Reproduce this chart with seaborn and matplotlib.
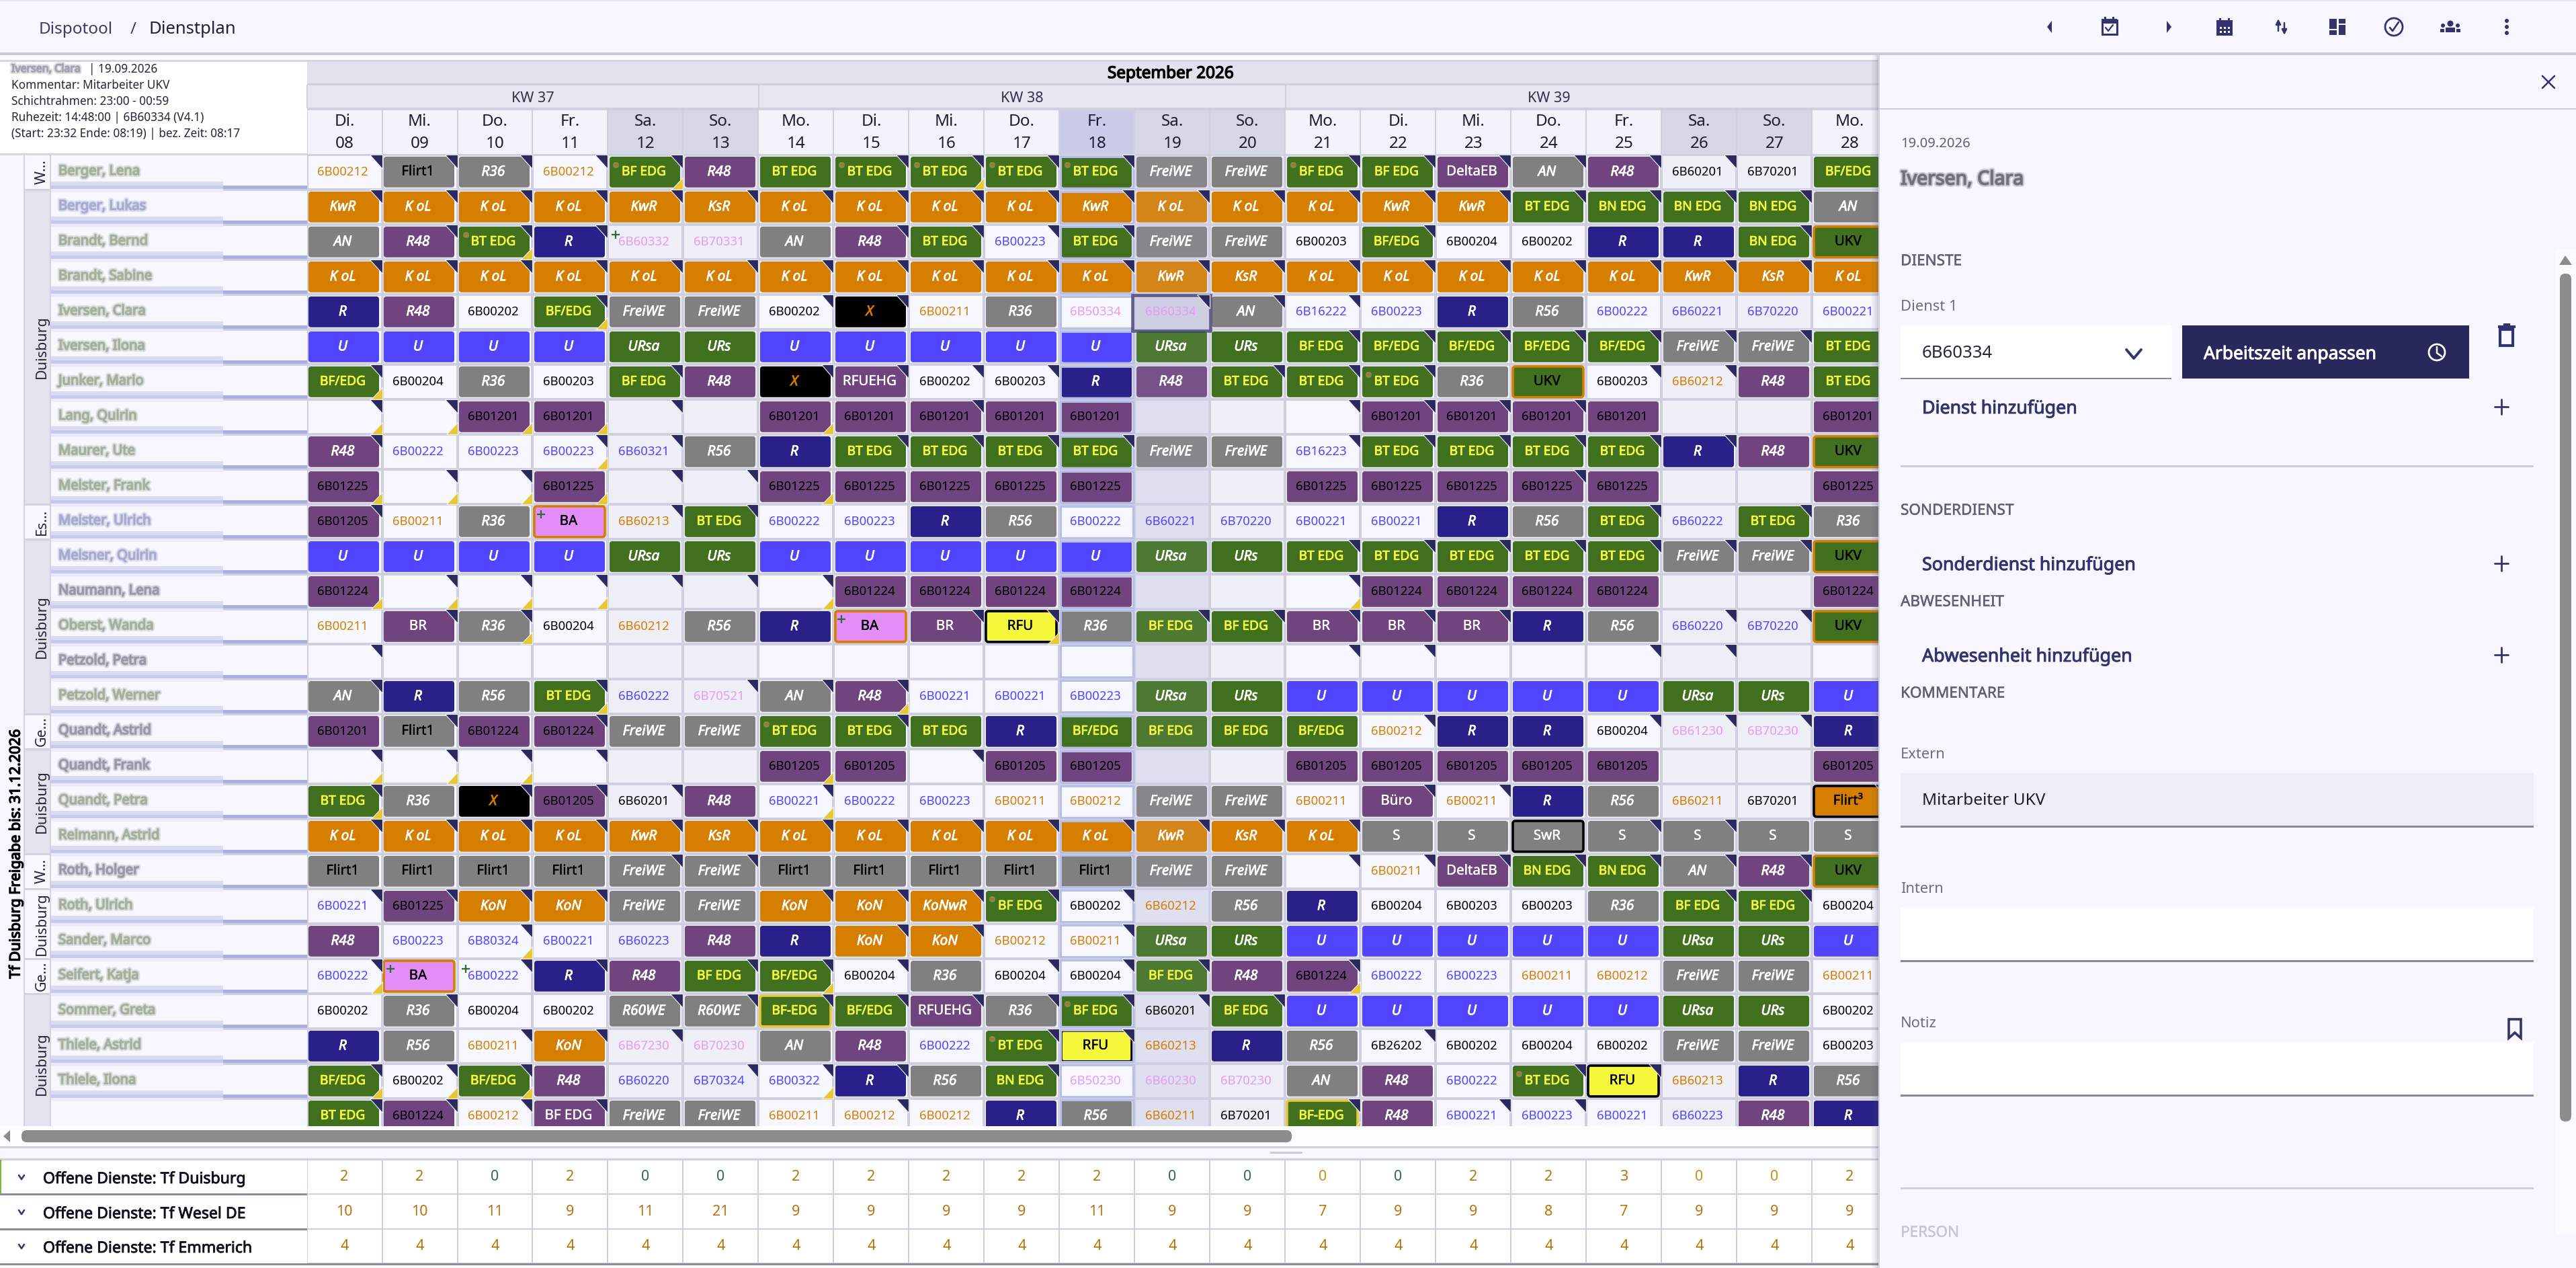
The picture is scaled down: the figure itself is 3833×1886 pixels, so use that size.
import numpy as np
import pandas as pd
import matplotlib
matplotlib.use("Agg")
import matplotlib.pyplot as plt
from matplotlib.colors import ListedColormap
from matplotlib.patches import FancyBboxPatch, Rectangle, Polygon, Circle
import matplotlib.patheffects as pe
import seaborn as sns

sns.set_theme(style="white")
plt.rcParams["font.family"] = ["Noto Sans", "DejaVu Sans"]

# ---------------- data ----------------
weekdays = ["Di.", "Mi.", "Do.", "Fr.", "Sa.", "So.", "Mo.", "Di.", "Mi.", "Do.", "Fr.", "Sa.", "So.",
            "Mo.", "Di.", "Mi.", "Do.", "Fr.", "Sa.", "So.", "Mo."]
day_numbers = ["08", "09", "10", "11", "12", "13", "14", "15", "16", "17", "18", "19", "20",
               "21", "22", "23", "24", "25", "26", "27", "28"]
kw_labels = ["KW 37", "KW 38", "KW 39"]
names = ["Berger, Lena", "Berger, Lukas", "Brandt, Bernd", "Brandt, Sabine", "Iversen, Clara", "Iversen, Ilona",
         "Junker, Mario", "Lang, Quirin", "Maurer, Ute", "Meister, Frank", "Meister, Ulrich", "Meisner, Quirin",
         "Naumann, Lena", "Oberst, Wanda", "Petzold, Petra", "Petzold, Werner", "Quandt, Astrid", "Quandt, Frank",
         "Quandt, Petra", "Reimann, Astrid", "Roth, Holger", "Roth, Ulrich", "Sander, Marco", "Seifert, Katja",
         "Sommer, Greta", "Thiele, Astrid", "Thiele, Ilona", "Thiele, Wanda"]
name_tones = list("gbggggggggbbpgpgppggpggggggg")
groups = [("W...", 1, False), ("Duisburg", 9, True), ("Es...", 1, False), ("Duisburg", 5, True), ("Ge...", 1, False),
          ("Duisburg", 3, True), ("W...", 1, False), ("Duisburg", 2, False), ("Ge...", 1, False), ("Duisburg", 4, True)]

row_00 = ["6B00212", "Flirt1", "R36", "6B00212", "BF EDG", "R48", "BT EDG", "BT EDG", "BT EDG", "BT EDG", "BT EDG", "FreiWE", "FreiWE", "BF EDG", "BF EDG", "DeltaEB", "AN", "R48", "6B60201", "6B70201", "BF/EDG"]
row_01 = ["KwR", "K oL", "K oL", "K oL", "KwR", "KsR", "K oL", "K oL", "K oL", "K oL", "KwR", "K oL", "K oL", "K oL", "KwR", "KwR", "BT EDG", "BN EDG", "BN EDG", "BN EDG", "AN"]
row_02 = ["AN", "R48", "BT EDG", "R", "6B60332", "6B70331", "AN", "R48", "BT EDG", "6B00223", "BT EDG", "FreiWE", "FreiWE", "6B00203", "BF/EDG", "6B00204", "6B00202", "R", "R", "BN EDG", "UKV"]
row_03 = ["K oL", "K oL", "K oL", "K oL", "K oL", "K oL", "K oL", "K oL", "K oL", "K oL", "K oL", "KwR", "KsR", "K oL", "K oL", "K oL", "K oL", "K oL", "KwR", "KsR", "K oL"]
row_04 = ["R", "R48", "6B00202", "BF/EDG", "FreiWE", "FreiWE", "6B00202", "X", "6B00211", "R36", "6B50334", "6B60334", "AN", "6B16222", "6B00223", "R", "R56", "6B00222", "6B60221", "6B70220", "6B00221"]
row_05 = ["U", "U", "U", "U", "URsa", "URs", "U", "U", "U", "U", "U", "URsa", "URs", "BF EDG", "BF/EDG", "BF/EDG", "BF/EDG", "BF/EDG", "FreiWE", "FreiWE", "BT EDG"]
row_06 = ["BF/EDG", "6B00204", "R36", "6B00203", "BF EDG", "R48", "X", "RFUEHG", "6B00202", "6B00203", "R", "R48", "BT EDG", "BT EDG", "BT EDG", "R36", "UKV", "6B00203", "6B60212", "R48", "BT EDG"]
row_07 = ["", "", "6B01201", "6B01201", "", "", "6B01201", "6B01201", "6B01201", "6B01201", "6B01201", "", "", "", "6B01201", "6B01201", "6B01201", "6B01201", "", "", "6B01201"]
row_08 = ["R48", "6B00222", "6B00223", "6B00223", "6B60321", "R56", "R", "BT EDG", "BT EDG", "BT EDG", "BT EDG", "FreiWE", "FreiWE", "6B16223", "BT EDG", "BT EDG", "BT EDG", "BT EDG", "R", "R48", "UKV"]
row_09 = ["6B01225", "", "", "6B01225", "", "", "6B01225", "6B01225", "6B01225", "6B01225", "6B01225", "", "", "6B01225", "6B01225", "6B01225", "6B01225", "6B01225", "", "", "6B01225"]
row_10 = ["6B01205", "6B00211", "R36", "BA", "6B60213", "BT EDG", "6B00222", "6B00223", "R", "R56", "6B00222", "6B60221", "6B70220", "6B00221", "6B00221", "R", "R56", "BT EDG", "6B60222", "BT EDG", "R36"]
row_11 = ["U", "U", "U", "U", "URsa", "URs", "U", "U", "U", "U", "U", "URsa", "URs", "BT EDG", "BT EDG", "BT EDG", "BT EDG", "BT EDG", "FreiWE", "FreiWE", "UKV"]
row_12 = ["6B01224", "", "", "", "", "", "", "6B01224", "6B01224", "6B01224", "6B01224", "", "", "", "6B01224", "6B01224", "6B01224", "6B01224", "", "", "6B01224"]
row_13 = ["6B00211", "BR", "R36", "6B00204", "6B60212", "R56", "R", "BA", "BR", "RFU", "R36", "BF EDG", "BF EDG", "BR", "BR", "BR", "R", "R56", "6B60220", "6B70220", "UKV"]
row_14 = [""] * 21
row_15 = ["AN", "R", "R56", "BT EDG", "6B60222", "6B70521", "AN", "R48", "6B00221", "6B00221", "6B00223", "URsa", "URs", "U", "U", "U", "U", "U", "URsa", "URs", "U"]
row_16 = ["6B01201", "Flirt1", "6B01224", "6B01224", "FreiWE", "FreiWE", "BT EDG", "BT EDG", "BT EDG", "R", "BF/EDG", "BF EDG", "BF EDG", "BF/EDG", "6B00212", "R", "R", "6B00204", "6B61230", "6B70230", "R"]
row_17 = ["", "", "", "", "", "", "6B01205", "6B01205", "", "6B01205", "6B01205", "", "", "6B01205", "6B01205", "6B01205", "6B01205", "6B01205", "", "", "6B01205"]
row_18 = ["BT EDG", "R36", "X", "6B01205", "6B60201", "R48", "6B00221", "6B00222", "6B00223", "6B00211", "6B00212", "FreiWE", "FreiWE", "6B00211", "Büro", "6B00211", "R", "R56", "6B60211", "6B70201", "Flirt³"]
row_19 = ["K oL", "K oL", "K oL", "K oL", "KwR", "KsR", "K oL", "K oL", "K oL", "K oL", "K oL", "KwR", "KsR", "K oL", "S", "S", "SwR", "S", "S", "S", "S"]
row_20 = ["Flirt1", "Flirt1", "Flirt1", "Flirt1", "FreiWE", "FreiWE", "Flirt1", "Flirt1", "Flirt1", "Flirt1", "Flirt1", "FreiWE", "FreiWE", "", "6B00211", "DeltaEB", "BN EDG", "BN EDG", "AN", "R48", "UKV"]
row_21 = ["6B00221", "6B01225", "KoN", "KoN", "FreiWE", "FreiWE", "KoN", "KoN", "KoNwR", "BF EDG", "6B00202", "6B60212", "R56", "R", "6B00204", "6B00203", "6B00203", "R36", "BF EDG", "BF EDG", "6B00204"]
row_22 = ["R48", "6B00223", "6B80324", "6B00221", "6B60223", "R48", "R", "KoN", "KoN", "6B00212", "6B00211", "URsa", "URs", "U", "U", "U", "U", "U", "URsa", "URs", "U"]
row_23 = ["6B00222", "BA", "6B00222", "R", "R48", "BF EDG", "BF/EDG", "6B00204", "R36", "6B00204", "6B00204", "BF EDG", "R48", "6B01224", "6B00222", "6B00223", "6B00211", "6B00212", "FreiWE", "FreiWE", "6B00211"]
row_24 = ["6B00202", "R36", "6B00204", "6B00202", "R60WE", "R60WE", "BF-EDG", "BF/EDG", "RFUEHG", "R36", "BF EDG", "6B60201", "BF EDG", "U", "U", "U", "U", "U", "URsa", "URs", "6B00202"]
row_25 = ["R", "R56", "6B00211", "KoN", "6B67230", "6B70230", "AN", "R48", "6B00222", "BT EDG", "RFU", "6B60213", "R", "R56", "6B26202", "6B00202", "6B00204", "6B00202", "FreiWE", "FreiWE", "6B00203"]
row_26 = ["BF/EDG", "6B00202", "BF/EDG", "R48", "6B60220", "6B70324", "6B00322", "R", "R56", "BN EDG", "6B50230", "6B60230", "6B70230", "AN", "R48", "6B00222", "BT EDG", "RFU", "6B60213", "R", "R56"]
row_27 = ["BT EDG", "6B01224", "6B00212", "BF EDG", "FreiWE", "FreiWE", "6B00211", "6B00212", "6B00212", "R", "R56", "6B60211", "6B70201", "BF-EDG", "R48", "6B00221", "6B00223", "6B00221", "6B60223", "R48", "R"]
shift_rows = [row_00, row_01, row_02, row_03, row_04, row_05, row_06, row_07, row_08, row_09, row_10, row_11, row_12, row_13,
              row_14, row_15, row_16, row_17, row_18, row_19, row_20, row_21, row_22, row_23, row_24, row_25, row_26, row_27]

# corner flags per row: n = navy top-right, y = yellow bottom-right, b = both
corner_flags = [
    "nnnnb..nbnn..nnnnnn..", "nnnnnnnnnnnnnnnnnnnn.", ".nbn...nnnn...n....n.", "nnnnnnnnnnnnnnnnnnnn.",
    "...b..nn...nnn.......", ".............nnnnnnn.", "b...n.nnnn..nnn..nn..", "bbyyn.y.n....nnnn....",
    "n..bn..nnnn..nnnnnn..", "ybbynny.........n....", "n...nn...........n.n.", ".............nnnnnnn.",
    "ybbbnnb......b.......", ".nb.....nb.nnnnn..nn.", "n............nn..nn..", "n..b.nnb.............",
    ".n.n...n......n..nnn.", "bbbn..y.n............", "b.nnn.b.......nn....n", "nnnnnnnnnnnnnn...nn..",
    "....nn.......nnnnnnn.", "nnnn..nnnnn.......nn.", "..b....nn.n..........", "b.nn.nbn.nnn.b.......",
    ".n..nnnnnnnnn........", "..nnn....nn...n......", "bbb..nbn.n......nn...", "nnnn...n.....b.nn...."]
minus_marks = [(0, 4), (0, 7), (0, 8), (0, 9), (0, 10), (0, 13), (2, 2), (6, 14), (16, 6), (21, 9), (24, 10), (25, 9), (26, 16)]
plus_marks = [(2, 4), (10, 3), (13, 7), (23, 1), (23, 2)]

orange_labels = ["K oL", "KwR", "KsR", "KoN", "KoNwR"]
grey_labels = ["R36", "R56", "AN", "FreiWE", "R60WE", "S", "SwR"]
edg_labels = ["BF EDG", "BT EDG", "BN EDG", "BF/EDG", "BF-EDG"]
purple_text_labels = ["BR", "DeltaEB", "Büro", "RFUEHG"]
green_urlaub_labels = ["URsa", "URs"]
pink_codes = ["6B60332", "6B70331", "6B50334", "6B60334", "6B70521", "6B61230", "6B70230", "6B67230", "6B50230", "6B60230"]
orange_codes = ["6B00211", "6B00212", "6B60211", "6B60212", "6B60213"]
black_codes = ["6B00202", "6B00203", "6B00204", "6B60201", "6B70201", "6B26202"]

open_duisburg = [2, 2, 0, 2, 0, 0, 2, 2, 2, 2, 2, 0, 0, 0, 0, 2, 2, 3, 0, 0, 2]
open_wesel = [10, 10, 11, 9, 11, 21, 9, 9, 9, 9, 11, 9, 9, 7, 9, 9, 8, 7, 9, 9, 9]
open_emmerich = [4] * 21
open_labels = ["Offene Dienste: Tf Duisburg", "Offene Dienste: Tf Wesel DE", "Offene Dienste: Tf Emmerich"]

# ---------------- palette ----------------
PAGE = "#F6F7FF"; LINE = "#CFCFE0"; NAVY = "#2A2A5E"; INK = "#33336E"
ORANGE = "#D67E00"; GREEN = "#41701E"; PURPLE = "#70447E"; DEEP = "#29208A"; BLUE = "#5245FF"
GREY = "#808080"; YEL = "#F6F83C"; PINK = "#E28DF8"; CORNER_Y = "#E8C832"


def style_for(label, r, c):
    """(fill, text colour, italic, border)"""
    if (r, c) == (27, 3):
        return PURPLE, "white", False, None
    if label in orange_labels:
        return ORANGE, "white", True, None
    if label == "R":
        return DEEP, "white", True, None
    if label == "R48":
        return PURPLE, "white", True, None
    if label == "SwR":
        return GREY, "white", False, "black"
    if label == "S":
        return GREY, "white", False, None
    if label in grey_labels:
        return GREY, "white", True, None
    if label == "Flirt1":
        return GREY, "black", False, None
    if label == "Flirt³":
        return ORANGE, "black", False, "black"
    if label in purple_text_labels:
        return PURPLE, "white", False, None
    if label.startswith("6B01"):
        return PURPLE, "black", False, None
    if label == "BF-EDG":
        return GREEN, YEL, False, CORNER_Y
    if label in edg_labels:
        return GREEN, YEL, False, None
    if label == "U":
        return BLUE, "white", True, None
    if label in green_urlaub_labels:
        return GREEN, "white", True, None
    if label == "UKV":
        return GREEN, "black", False, ORANGE
    if label == "BA":
        return PINK, "black", False, ORANGE
    if label == "RFU":
        return YEL, "black", False, "black"
    if label == "X":
        return "black", ORANGE, True, None
    if label in pink_codes:
        return None, "#E79AF2", False, None
    if label in orange_codes:
        return None, ORANGE, False, None
    if label in black_codes:
        return None, "black", False, None
    return None, BLUE, False, None


# ---------------- layout ----------------
W, H = 3833, 1886
X0, CW, Y0, RH = 456.5, 112.0, 230.0, 52.0
GRID_BOTTOM = 1675.0
fig = plt.figure(figsize=(W / 100, H / 100), dpi=100, facecolor=PAGE)


def axes_px(x1, y1, x2, y2, z):
    a = fig.add_axes([x1 / W, 1 - y2 / H, (x2 - x1) / W, (y2 - y1) / H], zorder=z)
    return a


base = axes_px(0, 0, W, H, 0)
base.set_xlim(0, W); base.set_ylim(H, 0); base.axis("off")


def rect(a, x1, y1, x2, y2, color, z=1, **kw):
    a.add_patch(Rectangle((x1, y1), x2 - x1, y2 - y1, facecolor=color, edgecolor="none", zorder=z, **kw))


def heavy(t, w=0.7):
    """The installed sans has one weight only; a thin outline gives the heavier strokes."""
    t.set_path_effects([pe.withStroke(linewidth=w, foreground=t.get_color())])
    return t


def txt(a, x, y, s, size, color="black", ha="left", bold=0.0, z=5, **kw):
    t = a.text(x, y, s, fontsize=size, color=color, ha=ha, va="center", zorder=z, **kw)
    return heavy(t, bold) if bold else t


def blurred(a, x, y, s, size, color, z=5):
    t = a.text(x, y, s, fontsize=size, color=color, ha="left", va="center", zorder=z, alpha=0.8)
    t.set_path_effects([pe.Stroke(linewidth=4.5, foreground=color, alpha=0.32),
                        pe.Stroke(linewidth=1.4, foreground=color, alpha=0.8), pe.Normal()])
    return t


# top bar
rect(base, 0, 0, W, 2, "#E6E6F0")
rect(base, 0, 78, W, 82, "#C9C9DA")
rect(base, 0, 82, W, 89, "white")
rect(base, 0, 89, W, 92, "#D5D5E3")
txt(base, 58, 44, "Dispotool", 17.5, "#3B3B63")
txt(base, 194, 44, "/", 17.5, "#3B3B63")
txt(base, 222, 44, "Dienstplan", 18.5, "#22223A")

# info box
rect(base, 0, 92, X0, 228, "white")
rect(base, 0, 228, X0, 231, "#D5D5E3")
blurred(base, 17, 103, "Iversen, Clara", 11.5, "#A2A2B0")
info_lines = ["| 19.09.2026", "Kommentar: Mitarbeiter UKV", "Schichtrahmen: 23:00 - 00:59",
              "Ruhezeit: 14:48:00 | 6B60334 (V4.1)", "(Start: 23:32 Ende: 08:19) | bez. Zeit: 08:17"]
for i, s in enumerate(info_lines):
    txt(base, 132 if i == 0 else 17, 103 + 24 * i, s, 12.4, "#24243A")

# header
rect(base, X0, 92, W, 126, "#E1E2EE")
rect(base, X0, 126, W, 161, "#E5E6F1")
rect(base, X0, 124, W, 127, LINE)
rect(base, X0, 160, W, 163, LINE)
txt(base, 1742, 110, "September 2026", 17.5, "black", ha="center", bold=1.0)
kw_spans = [(0, 6), (6, 13), (13, 21)]
for (a_, b_), lab in zip(kw_spans, kw_labels):
    xa, xb = X0 + a_ * CW, X0 + b_ * CW
    rect(base, xa - 1, 126, xa + 1, 161, LINE, z=2)
txt(base, X0 + 3 * CW, 146, kw_labels[0], 15.5, "#33334A", ha="center")
txt(base, X0 + 9.5 * CW, 146, kw_labels[1], 15.5, "#33334A", ha="center")
txt(base, X0 + 16.5 * CW, 146, kw_labels[2], 15.5, "#33334A", ha="center")

head = axes_px(X0, 163, X0 + 21 * CW, Y0, 1)
day_kind = [[2 if i == 10 else (1 if weekdays[i] in ("Sa.", "So.") else 0) for i in range(21)]]
sns.heatmap(pd.DataFrame(day_kind), ax=head, cmap=ListedColormap(["#F3F4FB", "#D6D7E4", "#C9CBE9"]), vmin=0, vmax=2,
            cbar=False, linewidths=1.4, linecolor=LINE, xticklabels=False, yticklabels=False)
head.set_xlim(0, 21); head.set_ylim(1, 0)
for i in range(21):
    head.text(i + 0.5, 0.27, weekdays[i], ha="center", va="center", fontsize=17.5, color="#1D1D2E")
    head.text(i + 0.5, 0.76, day_numbers[i], ha="center", va="center", fontsize=17.5, color="#1D1D2E")

# left columns
rect(base, 0, 231, 35, GRID_BOTTOM, PAGE)
rect(base, 35, 231, 37, GRID_BOTTOM, "#D2D2E0", z=2)
rect(base, 74, 231, 76, GRID_BOTTOM, "#D2D2E0", z=2)
txt(base, 24, 1270, "Tf Duisburg Freigabe bis: 31.12.2026", 15.6, "black", ha="center", bold=1.0, rotation=90)
ry = 0
for glabel, span, shaded in groups:
    ya, yb = Y0 + ry * RH, Y0 + (ry + span) * RH
    if shaded:
        rect(base, 36, ya, 75, yb, "#E2E3EF")
    rect(base, 36, yb - 1.5, 75, yb + 1.5, "#D2D2E0", z=2)
    base.text(62, (ya + yb) / 2, glabel, rotation=90, ha="center", va="center", fontsize=15.5, color="#26263A", zorder=5)
    ry += span
tone_col = {"g": "#A3B09C", "b": "#A6ABCF", "p": "#9A97A8"}
for r, nm in enumerate(names):
    yb = Y0 + (r + 1) * RH
    if yb - 10 > GRID_BOTTOM:
        continue
    rect(base, 76, yb - 6, X0, min(yb, GRID_BOTTOM), "#A9AFE3", z=2)
    rect(base, 76, yb - 12, 332, yb - 6, "#DADCF4", z=2)
    rect(base, 76, yb - 6, 332, yb - 1, "#C6CAEC", z=3)
    rect(base, 76, yb - 1, 332, min(yb + 4, GRID_BOTTOM), "#EBECF5", z=3)
    rect(base, 76, yb - 1, X0, yb + 2, LINE, z=2)
    blurred(base, 87, Y0 + r * RH + 25, nm, 14.5, tone_col[name_tones[r]])

# grid
grid = axes_px(X0, Y0, X0 + 21 * CW, GRID_BOTTOM, 2)
n_rows = len(shift_rows)
bg_kind = np.array([[2 if c == 11 else (1 if weekdays[c] in ("Sa.", "So.") else 0) for c in range(21)] for _ in range(n_rows)])
sns.heatmap(pd.DataFrame(bg_kind), ax=grid, cmap=ListedColormap([PAGE, "#EDEEF6", "#E1E3F2"]), vmin=0, vmax=2,
            cbar=False, linewidths=1.7, linecolor=LINE, xticklabels=False, yticklabels=False)
grid.set_xlim(0, 21)
grid.set_ylim((GRID_BOTTOM - Y0) / RH, 0)
px_x, px_y = 1 / CW, 1 / RH
aspect = CW / RH

for r, row in enumerate(shift_rows):
    for c, label in enumerate(row):
        if not label:
            continue
        fill, fg, ital, border = style_for(label, r, c)
        if fill is not None:
            lw = 0 if border is None else 2.6
            ec = "none" if border is None else border
            grid.add_patch(FancyBboxPatch((c + 2.5 * px_x, r + 3.0 * px_y), 1 - 7 * px_x, 1 - 6.2 * px_y,
                                          boxstyle=f"round,pad=0,rounding_size={4 * px_x}", mutation_aspect=aspect,
                                          facecolor=fill, edgecolor=ec, linewidth=lw, zorder=3))
        plain_block = fill is not None and not ital and fg != YEL and not label.startswith("6B")
        size = 15.0 if ital else (13.8 if fg == YEL else (14.8 if plain_block else 13.4))
        t = grid.text(c + 0.477, r + 0.495, label, ha="center", va="center", fontsize=size, color=fg,
                      fontstyle="italic" if ital else "normal", zorder=6, clip_on=True)
        if ital or fg == YEL:
            heavy(t, 0.55)
        elif plain_block:
            heavy(t, 0.25)

# column highlight + corner markers
grid.add_patch(Rectangle((11, 0), 1, n_rows, facecolor="#C8CCE8", alpha=0.10, edgecolor="none", zorder=4))
for r in range(n_rows):
    grid.add_patch(Rectangle((10 + 1.5 * px_x, r + 2.5 * px_y), 1 - 4 * px_x, 1 - 5 * px_y, facecolor="none",
                             edgecolor="#B8BEEA", linewidth=2.2, zorder=4.5))
for r, flags in enumerate(corner_flags):
    for c, fl in enumerate(flags):
        if fl in "nb":
            grid.add_patch(Polygon([(c + 1 - 19 * px_x, r), (c + 1, r), (c + 1, r + 21 * px_y)], facecolor=NAVY,
                                   edgecolor="#F0F1FA", linewidth=0.8, zorder=5))
        if fl in "yb":
            grid.add_patch(Polygon([(c + 1, r + 1 - 18 * px_y), (c + 1, r + 1), (c + 1 - 17 * px_x, r + 1)],
                                   facecolor=CORNER_Y, edgecolor="#F0F1FA", linewidth=0.8, zorder=5))
for r, c in minus_marks:
    grid.plot([c + 12 * px_x], [r + 15 * px_y], marker="o", ms=6.5, color="#7FA060", mew=0, alpha=0.8, zorder=7)
    grid.plot([c + 12 * px_x], [r + 15 * px_y], marker="_", ms=6, mew=1.6, color="#C8641E", zorder=7.5)
for r, c in plus_marks:
    grid.plot([c + 12 * px_x], [r + 15 * px_y], marker="+", ms=8, mew=1.6, color="#2F6A34", zorder=7.5)
# selected cell
grid.add_patch(Rectangle((11 - 3 * px_x, 4 + 0.5 * px_y), 1 + 4 * px_x, 1 + 1 * px_y, facecolor="#C9CADF", alpha=0.75,
                         edgecolor="#3A3A6E", linewidth=3.4, zorder=5.4))
grid.add_patch(Polygon([(12 - 19 * px_x, 4), (12, 4), (12, 4 + 21 * px_y)], facecolor=NAVY, edgecolor="#F0F1FA",
                       linewidth=0.8, zorder=5.5))

# scrollbars / divider
rect(base, 0, GRID_BOTTOM, W, 1706, "#FCFCFD", z=1)
base.add_patch(Polygon([(5, 1690), (15, 1681), (15, 1699)], facecolor="#8C8C8C", edgecolor="none", zorder=3))
base.add_patch(FancyBboxPatch((32, 1681), 1890, 18, boxstyle="round,pad=0,rounding_size=8", facecolor="#8C8C8C",
                              edgecolor="none", zorder=3))
rect(base, 0, 1705, W, 1708, "#CFCFE0", z=2)
rect(base, 0, 1708, W, 1723, PAGE, z=1)
rect(base, 1890, 1713, 1938, 1716, "#C9CBD6", z=2)
rect(base, 0, 1723, W, 1725.5, "#CFCFE0", z=2)

# footer table
rect(base, 0, 1725, W, H, "white", z=1)
foot = axes_px(X0, 1725, X0 + 21 * CW, 1879, 2)
open_df = pd.DataFrame([open_duisburg, open_wesel, open_emmerich])
sns.heatmap(open_df, ax=foot, annot=True, fmt="d", cmap=ListedColormap(["white"]), cbar=False,
            annot_kws={"fontsize": 15.5, "color": "#B8720A"}, linewidths=1.4, linecolor=LINE,
            xticklabels=False, yticklabels=False)
gold_zero_cols = [13, 18, 19]
for t, (rr, cc) in zip(foot.texts, [(a, b) for a in range(3) for b in range(21)]):
    v = open_df.iloc[rr, cc]
    t.set_color("#B8720A")
    if v == 0:
        t.set_color("#C8900F" if cc in gold_zero_cols else "#2E6E3E")
for yy, lab in zip([1753, 1805, 1856], open_labels):
    txt(base, 64, yy + 1, lab, 16.6, "#111122", bold=0.6)
    base.plot([28, 32, 36], [yy - 5, yy + 1, yy - 5], color=INK, lw=1.8, zorder=5)
for yy in [1775.5, 1827.5, 1879.5]:
    rect(base, 0, yy - 1, W, yy + 2, "#8B8B9B", z=4)
foot.set_zorder(2)
rect(base, 0, 1725, 2, 1775, "#7AB648", z=5)

# ---------------- right panel + toolbar ----------------
top = axes_px(0, 0, W, H, 6)
top.set_xlim(0, W); top.set_ylim(H, 0); top.axis("off"); top.patch.set_alpha(0)
for i, al in enumerate([0.05, 0.08, 0.12, 0.18, 0.25]):
    rect(top, 2785 + 2 * i, 82, 2787 + 2 * i, H, "#55556A", alpha=al)
rect(top, 2795, 82, W, H, PAGE)
rect(top, 2795, 82, 2796.5, H, "#D5D5E3", z=1.5)
rect(top, 2795, 160.5, W, 163, "#CBCBDB", z=2)
top.plot([3783, 3801], [113, 131], color=INK, lw=1.8)
top.plot([3783, 3801], [131, 113], color=INK, lw=1.8)

GREY_T = "#606072"
txt(top, 2828, 214, "19.09.2026", 14.6, GREY_T)
blurred(top, 2828, 267, "Iversen, Clara", 20.5, "#70707A")
for yy, s in [(389, "DIENSTE"), (760, "SONDERDIENST"), (896, "ABWESENHEIT"), (1032, "KOMMENTARE")]:
    txt(top, 2828, yy, s, 16.2, GREY_T, bold=0.35)
txt(top, 2828, 1834, "PERSON", 16.2, "#C5C6D6", bold=0.35)
for yy, s in [(456, "Dienst 1"), (1122, "Extern"), (1322, "Intern"), (1522, "Notiz")]:
    txt(top, 2828, yy, s, 15.8, "#6E6E80")

rect(top, 2828, 484, 3231, 563, "white", z=2)
rect(top, 2828, 561.5, 3231, 564, "#88889A", z=3)
txt(top, 2860, 526, "6B60334", 18.5, "#26263A")
top.plot([3164, 3175, 3186], [520, 533, 520], color=INK, lw=2.8)
rect(top, 3247, 484, 3674, 563, "#28285C", z=2)
txt(top, 3279, 527, "Arbeitszeit anpassen", 19, "white", bold=0.7)
top.add_patch(Circle((3626, 524), 12, facecolor="none", edgecolor="white", lw=2, zorder=5))
top.plot([3626, 3626, 3633], [516, 525, 530], color="white", lw=1.8, zorder=5)
# trash
top.add_patch(Rectangle((3720, 490), 19, 24, facecolor="none", edgecolor=INK, lw=3, zorder=5))
rect(top, 3717, 484, 3743, 488, INK, z=5)
rect(top, 3725, 481, 3735, 485, INK, z=5)

for yy, s in [(608, "Dienst hinzufügen"), (841, "Sonderdienst hinzufügen"), (977, "Abwesenheit hinzufügen")]:
    txt(top, 2860, yy, s, 19.3, INK, bold=0.7)
    top.plot([3722, 3722], [yy - 14, yy + 8], color=INK, lw=2)
    top.plot([3712, 3732], [yy - 3, yy - 3], color=INK, lw=2)
rect(top, 2828, 692, 3770, 695, "#CFCFDD", z=2)
rect(top, 2828, 1766, 3770, 1768.5, "#CFCFDD", z=2)

rect(top, 2828, 1150, 3770, 1229, "#EEEEF8", z=2)
rect(top, 2828, 1350, 3770, 1429, "white", z=2)
rect(top, 2828, 1550, 3770, 1629, "white", z=2)
for yy in [1229, 1429, 1629]:
    rect(top, 2828, yy - 1, 3770, yy + 1.5, "#88889A", z=3)
txt(top, 2860, 1191, "Mitarbeiter UKV", 17.6, "#1C1C2C")
top.add_patch(Polygon([(3733, 1516), (3751, 1516), (3751, 1544), (3742, 1536), (3733, 1544)], closed=True,
                      facecolor="none", edgecolor=INK, lw=2.6, zorder=5))

# right scrollbar
rect(top, 3803, 370, W, H - 50, "#FBFBFD", z=1.2)
top.add_patch(Polygon([(3808, 394), (3817, 380), (3827, 394)], facecolor="#8C8C8C", edgecolor="none", zorder=3))
top.add_patch(FancyBboxPatch((3809, 407), 17, 1261, boxstyle="round,pad=0,rounding_size=8", facecolor="#8C8C8C",
                             edgecolor="none", zorder=3))

# toolbar icons
ty = 40
top.add_patch(Polygon([(3046, ty), (3053, ty - 9), (3053, ty + 9)], facecolor=INK, edgecolor="none"))
top.add_patch(Polygon([(3231, ty), (3224, ty - 9), (3224, ty + 9)], facecolor=INK, edgecolor="none"))
top.add_patch(Rectangle((3127.5, 30), 22, 21, facecolor="none", edgecolor=INK, lw=2.2))
rect(top, 3127, 28, 3150, 35, INK, z=4)
rect(top, 3131, 25, 3134, 30, INK, z=4); rect(top, 3143, 25, 3146, 30, INK, z=4)
top.plot([3133, 3137, 3144], [41, 46, 37], color=INK, lw=1.6)
rect(top, 3298, 30, 3322, 53, INK, z=4)
rect(top, 3302, 27, 3305, 32, INK, z=4); rect(top, 3315, 27, 3318, 32, INK, z=4)
for gx in [3304, 3310, 3316]:
    for gy in [41, 47]:
        rect(top, gx - 1.5, gy - 1.5, gx + 1.5, gy + 1.5, "white", z=5)
arrow_kw = dict(arrowstyle="-|>", color=INK, lw=1.8, mutation_scale=11, shrinkA=0, shrinkB=0)
top.annotate("", xy=(3390, 28), xytext=(3390, 46), arrowprops=arrow_kw)
top.annotate("", xy=(3399, 52), xytext=(3399, 34), arrowprops=arrow_kw)
rect(top, 3466, 28, 3477, 43, INK, z=4); rect(top, 3466, 45, 3477, 52, INK, z=4)
rect(top, 3480, 28, 3490, 35, INK, z=4); rect(top, 3480, 37, 3490, 52, INK, z=4)
top.add_patch(Circle((3562, ty), 13, facecolor="none", edgecolor=INK, lw=2))
top.plot([3556, 3560, 3569], [41, 46, 33], color=INK, lw=1.9)
for dx, dy, r_ in [(3646, 35, 4.5), (3635, 38, 3), (3657, 38, 3)]:
    top.add_patch(Circle((dx, dy), r_, facecolor=INK, edgecolor="none"))
rect(top, 3639, 41, 3653, 48, INK, z=4)
rect(top, 3631, 43, 3637, 48, INK, z=4); rect(top, 3655, 43, 3661, 48, INK, z=4)
for dy in [31, 40, 49]:
    top.add_patch(Circle((3730, dy), 3, facecolor=INK, edgecolor="none"))

fig.savefig("out.png", dpi=100, facecolor=PAGE)
